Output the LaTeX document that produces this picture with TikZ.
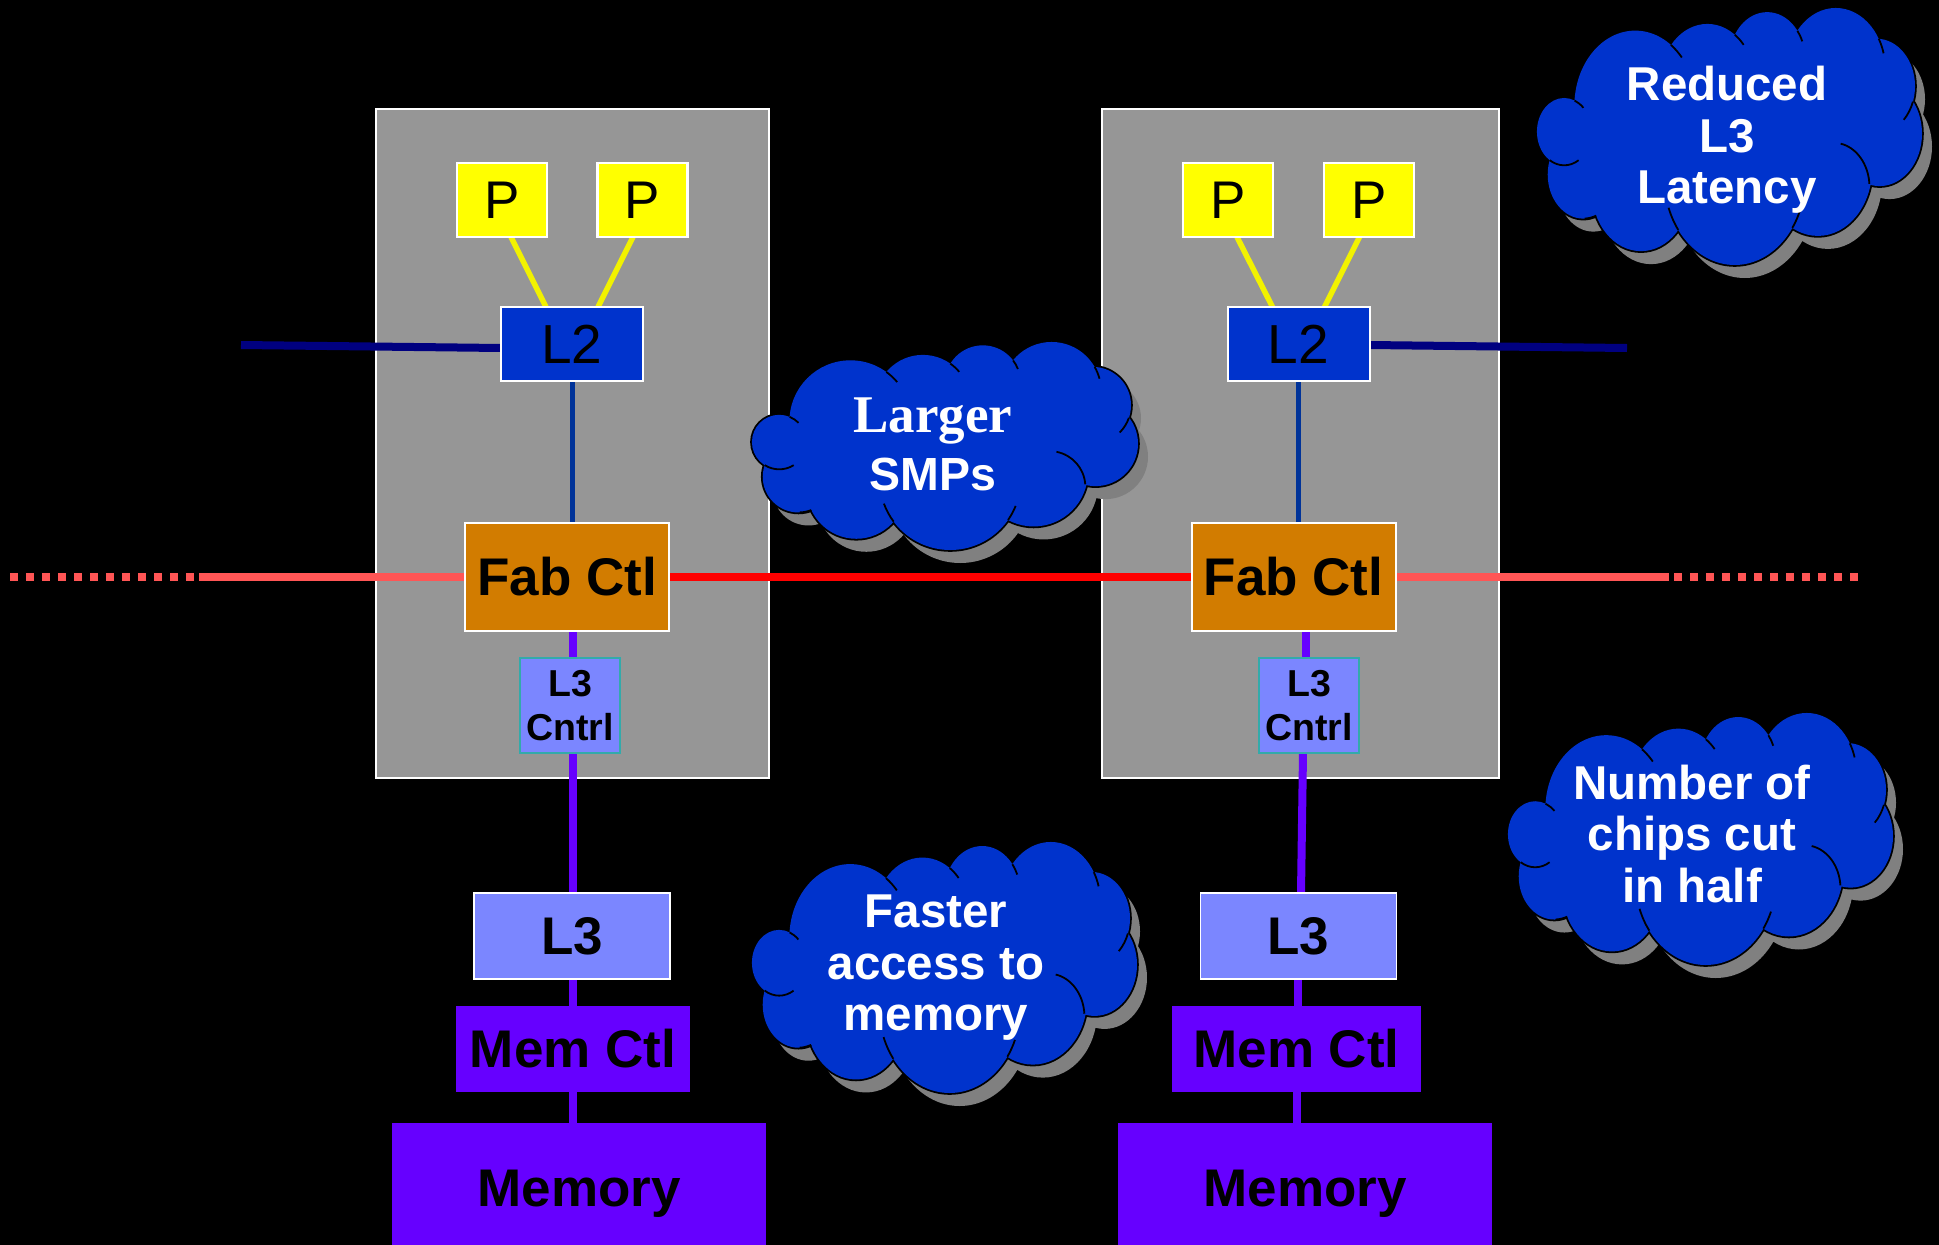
\documentclass[tikz,border=0pt]{standalone}
\usepackage{fontspec}
\setmainfont{Liberation Sans}
\newfontfamily\timesfont{Liberation Serif}

\definecolor{chipgray}{HTML}{969696}
\definecolor{procyellow}{HTML}{FFFF00}
\definecolor{wireyellow}{HTML}{F2F200}
\definecolor{cacheblue}{HTML}{0033CC}
\definecolor{navywire}{HTML}{000080}
\definecolor{busblue}{HTML}{003399}
\definecolor{faborange}{HTML}{D27C00}
\definecolor{lavender}{HTML}{7B86FF}
\definecolor{tealedge}{HTML}{33AAAA}
\definecolor{violetbus}{HTML}{6600FF}
\definecolor{fabricred}{HTML}{FF0000}
\definecolor{linkred}{HTML}{FF5555}
\definecolor{cloudshade}{HTML}{808080}

\pgfdeclarelayer{back}
\pgfdeclarelayer{wires}
\pgfsetlayers{back,wires,main}

% puffs of the cloud outline, in a 1158 x 625 frame
\newcommand\cloudpuffs{
  (578,315) ellipse[x radius=380,y radius=170]
  (81.7,300.7) circle[radius=81.9]
  (295.4,238) circle[radius=183]
  (512.5,181.1) circle[radius=142.4]
  (692.4,123.7) circle[radius=113.7]
  (898.7,148.8) circle[radius=148.9]
  (1021.5,190.2) circle[radius=115.5]
  (1030.4,305.5) circle[radius=127.6]
  (844.9,391.5) circle[radius=162.8]
  (594.7,413.3) circle[radius=211.7]
  (312.8,443) circle[radius=148.3]
  (139.4,405) circle[radius=107.2]}
% short inner arcs where the puffs meet
\newcommand\cloudcreases{
  (81.7,300.7) ++(-67.5:81.9) arc[start angle=-67.5,end angle=-45,radius=81.9]
  (295.4,238) ++(-54:183) arc[start angle=-54,end angle=-40,radius=183]
  (512.5,181.1) ++(-54.6:142.4) arc[start angle=-54.6,end angle=-40,radius=142.4]
  (692.4,123.7) ++(-37:113.7) arc[start angle=-37,end angle=-22,radius=113.7]
  (898.7,148.8) ++(-29.7:148.9) arc[start angle=-29.7,end angle=-15,radius=148.9]
  (1021.5,190.2) ++(19:115.5) arc[start angle=19,end angle=45,radius=115.5]
  (893,435) ++(-79:107) arc[start angle=-79,end angle=-4,radius=107]
  (594.7,413.3) ++(35:211.7) arc[start angle=35,end angle=22,radius=211.7]
  (594.7,413.3) ++(143.3:211.7) arc[start angle=143.3,end angle=160,radius=211.7]
  (139.4,405) ++(69:107.2) arc[start angle=69,end angle=88,radius=107.2]
  (81.7,300.7) ++(122:81.9) arc[start angle=122,end angle=58,radius=81.9]}
% #1,#2 top left corner, #3 width, #4 height
\newcommand\bluecloud[4]{%
  \begin{scope}[shift={({#1+10},{#2+13})},xscale=#3/1158,yscale=#4/625]
    \fill[cloudshade] \cloudpuffs;
  \end{scope}
  \begin{scope}[shift={(#1,#2)},xscale=#3/1158,yscale=#4/625]
    \draw[black,line width=3.6pt] \cloudpuffs;
    \fill[cacheblue] \cloudpuffs;
    \draw[black,line width=1.8pt] \cloudcreases;
  \end{scope}}

\begin{document}
\begin{tikzpicture}[x=1pt,y=-1pt,
  every node/.style={inner sep=0pt,outer sep=0pt},
  chip/.style={draw=white,line width=2pt,fill=chipgray,minimum height=669pt},
  pbox/.style={draw=white,line width=2.5pt,fill=procyellow,minimum width=90pt,
    minimum height=74pt,font=\fontsize{53}{60}\selectfont},
  l2box/.style={draw=white,line width=2pt,fill=cacheblue,minimum width=142pt,
    minimum height=74pt,font=\fontsize{55}{60}\selectfont},
  fabbox/.style={draw=white,line width=2pt,fill=faborange,minimum width=204pt,
    minimum height=108pt,font=\bfseries\fontsize{53}{60}\selectfont},
  l3cbox/.style={draw=tealedge,line width=2pt,fill=lavender,minimum width=100pt,
    minimum height=95pt,align=center,font=\bfseries\fontsize{37.5}{44}\selectfont},
  l3box/.style={draw=white,line width=1.5pt,fill=lavender,minimum width=196pt,
    minimum height=86pt,font=\bfseries\fontsize{53}{60}\selectfont},
  memctl/.style={fill=violetbus,minimum height=86pt,font=\bfseries\fontsize{53}{60}\selectfont},
  memory/.style={fill=violetbus,minimum width=374pt,minimum height=142pt,
    font=\bfseries\fontsize{53}{60}\selectfont},
  ywire/.style={draw=wireyellow,line width=5.5pt},
  nwire/.style={draw=navywire,line width=8pt},
  bwire/.style={draw=busblue,line width=5pt},
  pwire/.style={draw=violetbus,line width=8pt},
  redlink/.style={draw=linkred,line width=8pt},
  redfab/.style={draw=fabricred,line width=8pt},
  dotlink/.style={redlink,dash pattern=on 8pt off 8pt},
  cloudtext/.style={text=white,align=center,font=\bfseries\fontsize{47.5}{51.5}\selectfont}]

\useasboundingbox (0,0) rectangle (1939,1245);

\begin{pgfonlayer}{back}
  \fill[black] (0,0) rectangle (1939,1245);
  \node[chip,minimum width=393pt] (chipL) at (572.5,443.5) {};
  \node[chip,minimum width=397pt] (chipR) at (1300.5,443.5) {};
\end{pgfonlayer}

% left node
\node[pbox] (p1) at (502,200) {P};
\node[pbox] (p2) at (642.5,200) {P};
\node[l2box] (l2L) at (572,344) {L2};
\node[fabbox] (fabL) at (567,577) {Fab Ctl};
\node[l3cbox] (l3cL) at (570,705.5) {L3\\Cntrl};
\node[l3box] (l3L) at (572,936) {L3};
\node[memctl,minimum width=234pt] (mcL) at (573,1049) {Mem Ctl};
\node[memory] (memL) at (579,1194) {Memory};

% right node
\node[pbox] (p3) at (1228,200) {P};
\node[pbox] (p4) at (1369,200) {P};
\node[l2box] (l2R) at (1298.5,344) {L2};
\node[fabbox] (fabR) at (1293.5,577) {Fab Ctl};
\node[l3cbox] (l3cR) at (1309,705.5) {L3\\Cntrl};
\node[l3box] (l3R) at (1298.5,936) {L3};
\node[memctl,minimum width=249pt] (mcR) at (1296.5,1049) {Mem Ctl};
\node[memory] (memR) at (1305,1194) {Memory};

% free ends and bus lines
\coordinate (navyW) at (241,345);
\coordinate (navyE) at (1627,348);
\coordinate (redWfar) at (10,577);
\coordinate (redWdash) at (195,577);
\coordinate (redWnear) at (199,577);
\coordinate (redEnear) at (1669,577);
\coordinate (redEdash) at (1674,577);
\coordinate (redEfar) at (1858,577);
\coordinate (busL) at (573,0);
\coordinate (busRa) at (1306,0);
\coordinate (busRb) at (1303,0);
\coordinate (busRc) at (1301,0);
\coordinate (busRd) at (1298,0);
\coordinate (busRe) at (1297,0);

\begin{pgfonlayer}{wires}
  \draw[ywire] ([xshift=9pt]p1.south) -- ([xshift=-26pt]l2L.north);
  \draw[ywire] ([xshift=-9.5pt]p2.south) -- ([xshift=26pt]l2L.north);
  \draw[ywire] ([xshift=9pt]p3.south) -- ([xshift=-26pt]l2R.north);
  \draw[ywire] ([xshift=-9.5pt]p4.south) -- ([xshift=26pt]l2R.north);

  \draw[nwire] (navyW) -- ([yshift=-4pt]l2L.west);
  \draw[nwire] ([yshift=-1pt]l2R.east) -- (navyE);

  \draw[bwire] (l2L.south) -- (l2L.south |- fabL.north);
  \draw[bwire] (l2R.south) -- (l2R.south |- fabR.north);

  \draw[dotlink] (redWfar) -- (redWdash);
  \draw[redlink] (redWnear) -- (fabL.west);
  \draw[redfab] (fabL.east) -- (fabR.west);
  \draw[redlink] (fabR.east) -- (redEnear);
  \draw[dotlink] (redEdash) -- (redEfar);

  \draw[pwire] (fabL.south -| busL) -- (l3cL.north -| busL);
  \draw[pwire] (l3cL.south -| busL) -- (l3L.north -| busL);
  \draw[pwire] (l3L.south -| busL) -- (mcL.north -| busL);
  \draw[pwire] (mcL.south -| busL) -- (memL.north -| busL);

  \draw[pwire] (fabR.south -| busRa) -- (l3cR.north -| busRa);
  \draw[pwire] (l3cR.south -| busRb) -- (l3R.north -| busRc);
  \draw[pwire] (l3R.south -| busRd) -- (mcR.north -| busRd);
  \draw[pwire] (mcR.south -| busRe) -- (memR.north -| busRe);
\end{pgfonlayer}

% callouts
\bluecloud{1537}{8}{385}{257}
\node[cloudtext] (latency) at (1727,140) {Reduced\\L3\\Latency};

\bluecloud{752}{342}{386}{208}
\node[cloudtext,font=\bfseries\fontsize{46.5}{58}\selectfont] (smp) at (933,444)
  {{\timesfont\fontsize{53}{58}\selectfont Larger}\\SMPs};

\bluecloud{752}{842}{385}{251}
\node[cloudtext] (faster) at (936,968) {Faster\\access to\\memory};

\bluecloud{1508}{713}{385}{252}
\node[cloudtext] (chips) at (1692,834) {Number of\\chips cut\\in half};

\end{tikzpicture}
\end{document}
